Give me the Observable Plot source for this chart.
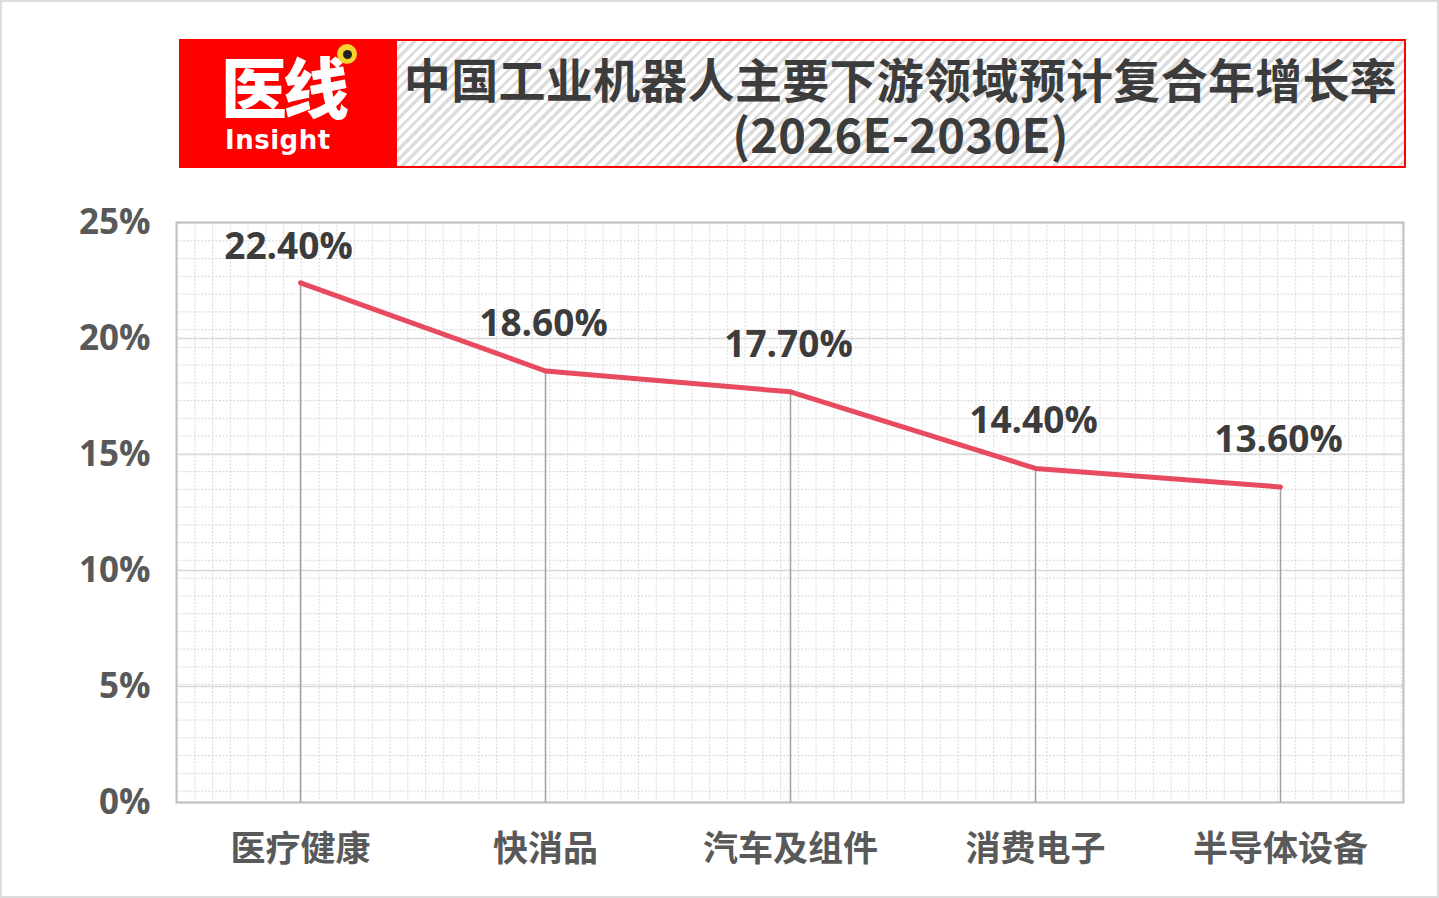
<!DOCTYPE html>
<html>
<head>
<meta charset="utf-8">
<script src="https://cdn.jsdelivr.net/npm/d3@7"></script>
<script src="https://cdn.jsdelivr.net/npm/@observablehq/plot@0.6"></script>
<style>
  html, body { margin: 0; padding: 0; background: #fff; }
  #page { position: relative; width: 1439px; height: 898px; overflow: hidden; }
  #border { position: absolute; left: 0; top: 0; width: 1439px; height: 898px; box-sizing: border-box; border: 2px solid #dcdcdc; z-index: 5; pointer-events: none; }
  #chart { position: absolute; left: 0; top: 0; }
  #header { position: absolute; left: 179px; top: 39px; width: 1227px; height: 129px; z-index: 3; }
  #logo { position: absolute; left: 0; top: 0; width: 218px; height: 129px; background: #ff0000; }
  #logo .cn { position: absolute; left: 42px; top: 12px; height: 66px; font-family: "Noto Sans CJK SC"; font-weight: 900; font-size: 66px; line-height: 66px; color: #fff; letter-spacing: -4px; }
  #logo .en { position: absolute; left: 46px; top: 86px; height: 30px; font-family: "DejaVu Sans"; font-weight: bold; font-size: 26px; line-height: 30px; color: #fff; letter-spacing: 0.5px; }
  #logo .dot { position: absolute; left: 158px; top: 5px; width: 20px; height: 20px; border-radius: 50%; background: #f5d430; }
  #logo .dot::after { content: ""; position: absolute; left: 6px; top: 6px; width: 9px; height: 9px; border-radius: 50%; background: #222; }
  #titlebox { position: absolute; left: 218px; top: 0; width: 1009px; height: 129px; box-sizing: border-box; border: 2.5px solid #ff0000; border-left: none;
    background: repeating-linear-gradient(135deg, #ffffff 0px, #ffffff 4px, #dddddd 4px, #dddddd 7.2px); }
  #titlebox .t { position: absolute; left: 0; right: 0; text-align: center; font-family: "Noto Sans CJK SC"; font-weight: 700; color: #3c3c3c; font-size: 47px; line-height: 47px; height: 47px; letter-spacing: 0.3px; }
</style>
</head>
<body>
<svg width="0" height="0" style="position:absolute">
  <defs>
    <pattern id="dotgrid" patternUnits="userSpaceOnUse" x="176" y="222" width="17.75" height="17.75">
      <line x1="0" y1="0.5" x2="17.75" y2="0.5" stroke="#cfcfcf" stroke-width="1.3" stroke-dasharray="1.5,2"/>
      <line x1="0.5" y1="0" x2="0.5" y2="17.75" stroke="#cfcfcf" stroke-width="1.3" stroke-dasharray="1.5,2"/>
    </pattern>
  </defs>
</svg>
<div id="page">
  <div id="chart"></div>
  <div id="header">
    <div id="logo"><div class="cn">医线</div><div class="dot"></div><div class="en">Insight</div></div>
    <div id="titlebox">
      <div class="t" style="top:13px">中国工业机器人主要下游领域预计复合年增长率</div>
      <div class="t" style="top:68px">(2026E-2030E)</div>
    </div>
  </div>
  <div id="border"></div>
</div>
<script>
const categories = ["医疗健康", "快消品", "汽车及组件", "消费电子", "半导体设备"];
const cagr = [0.224, 0.186, 0.177, 0.144, 0.136];
const valueLabels = ["22.40%", "18.60%", "17.70%", "14.40%", "13.60%"];
const yTicks = [0, 0.05, 0.10, 0.15, 0.20, 0.25];

const data = categories.map((c, i) => ({category: c, value: cagr[i], label: valueLabels[i]}));
const labelStyle = {x: "category", y: "value", text: "label", fill: "#3c3c3c", fontSize: 37, fontWeight: "bold", fontFamily: "Open Sans"};

const chart = Plot.plot({
  width: 1439,
  height: 898,
  marginTop: 222,
  marginBottom: 96,
  marginLeft: 176,
  marginRight: 36,
  style: {fontFamily: "Open Sans, 'Noto Sans CJK SC', sans-serif", background: "transparent", overflow: "visible"},
  x: {type: "point", domain: categories, padding: 0.5, label: null},
  y: {domain: [0, 0.25], label: null},
  marks: [
    Plot.frame({fill: "url(#dotgrid)", stroke: "none"}),
    Plot.gridY(yTicks, {stroke: "#d9d9d9", strokeOpacity: 1, strokeWidth: 1.5}),
    Plot.frame({stroke: "#c0c0c0", strokeWidth: 2}),
    Plot.ruleX(data, {x: "category", y1: 0, y2: "value", stroke: "#a0a0a0", strokeWidth: 1.5}),
    Plot.line(data, {x: "category", y: "value", stroke: "#e84a5f", strokeWidth: 5, strokeLinecap: "round", strokeLinejoin: "round"}),
    Plot.text(data.slice(0, 1), {...labelStyle, dx: -12, dy: -36}),
    Plot.text(data.slice(1), {...labelStyle, dx: -2, dy: -47}),
    Plot.axisY({ticks: yTicks, tickFormat: d3.format(".0%"), tickSize: 0, tickPadding: 26, fontSize: 35, fontWeight: "bold", fill: "#595959", fontFamily: "Open Sans"}),
    Plot.axisX({tickSize: 0, tickPadding: 34, fontSize: 35, fontWeight: "bold", fill: "#595959", fontFamily: "Noto Sans CJK SC"})
  ]
});
document.getElementById("chart").appendChild(chart);
</script>
</body>
</html>
